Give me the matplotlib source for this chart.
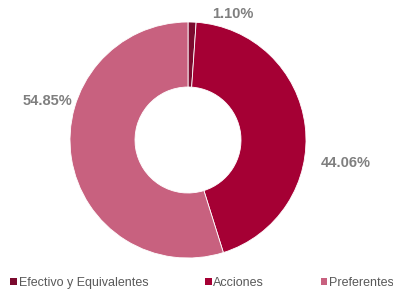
import numpy as np
import matplotlib
matplotlib.use("Agg")
from matplotlib import pyplot as plt
from matplotlib.patches import Patch

labels = ["Efectivo y Equivalentes", "Acciones", "Preferentes"]
values = [1.10, 44.06, 54.85]
colors = ["#7B0A2E", "#A50034", "#C8617F"]
pct_text = ["1.10%", "44.06%", "54.85%"]
label_pos = [(233, 277), (346, 128), (47, 190)]

W, H = 393, 291
fig = plt.figure(figsize=(W/100., H/100.), dpi=100)
ax = fig.add_axes([0, 0, 1, 1])

ax.pie(values, colors=colors, startangle=90, counterclock=False,
       center=(188, 151), radius=118,
       wedgeprops=dict(width=65, edgecolor="white", linewidth=0.6))
ax.set_xlim(0, W)
ax.set_ylim(0, H)
ax.set_aspect("equal")
ax.axis("off")

for txt, (x, y) in zip(pct_text, label_pos):
    ax.text(x, y, txt, ha="center", va="center", fontsize=10.5,
            fontweight="bold", color="#7F7F7F", family="Liberation Sans")

handles = [Patch(facecolor=c, edgecolor="none") for c in colors]
fig.legend(handles, labels, loc="lower left", bbox_to_anchor=(10/W, 2/H),
           ncol=3, frameon=False, borderpad=0, borderaxespad=0,
           handlelength=0.55, handleheight=0.55,
           handletextpad=0.15, columnspacing=4.5,
           prop=dict(family="Liberation Sans", size=9),
           labelcolor="#595959")

fig.savefig("out.png", dpi=100)
